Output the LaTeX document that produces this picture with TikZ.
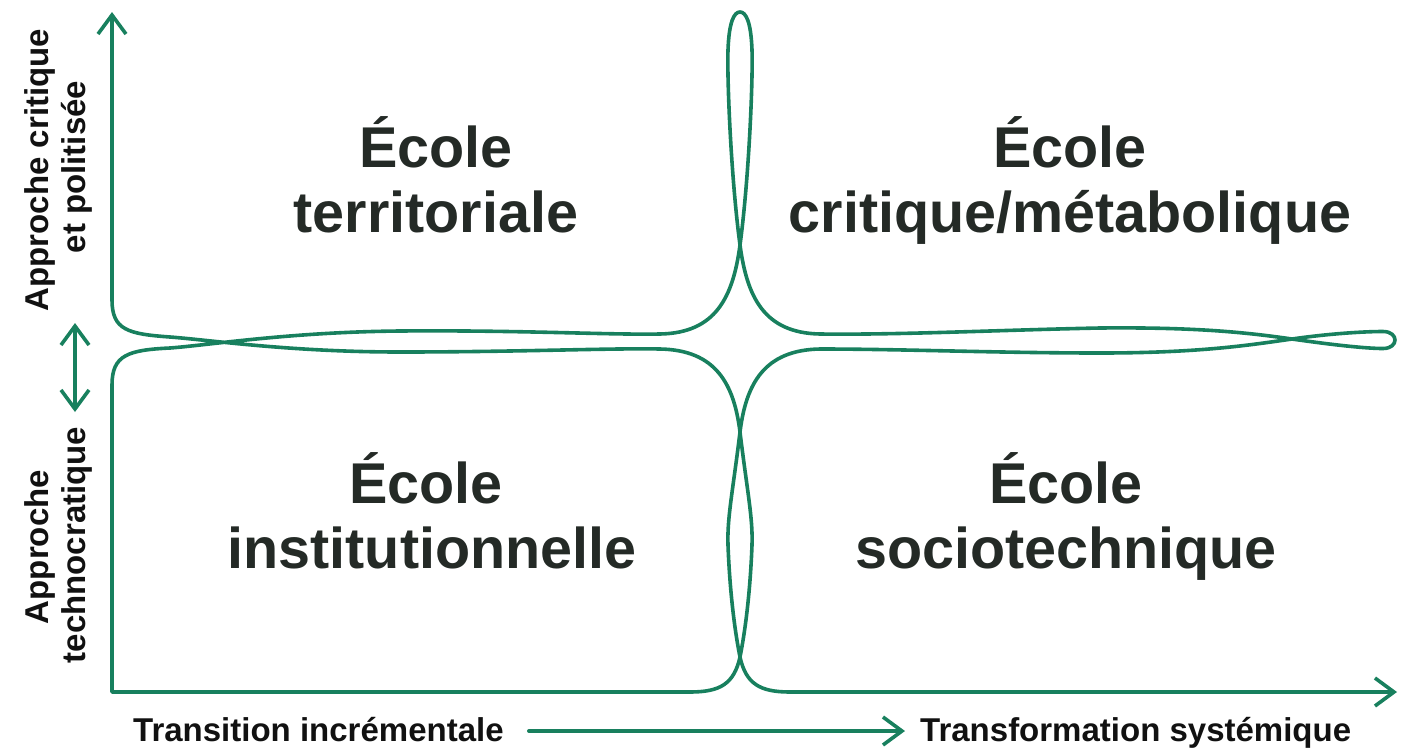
\documentclass[tikz,border=0pt]{standalone}
\usepackage{fontspec}
\setmainfont{Liberation Sans}
\usetikzlibrary{arrows.meta}
\definecolor{lineGreen}{RGB}{24,128,94}
\definecolor{schoolText}{RGB}{36,42,38}
\definecolor{axisText}{RGB}{17,17,17}

\begin{document}
\begin{tikzpicture}[line cap=round,line join=round,>={Straight Barb[length=19pt,width=28pt]},x=1pt,y=-1pt,
  curve/.style={lineGreen,line width=3.6pt},
  school/.style={font=\fontsize{57.5}{65}\selectfont\bfseries,text=schoolText,anchor=base,inner sep=0pt},
  axislabel/.style={font=\fontsize{33}{37}\selectfont\bfseries,text=axisText,inner sep=0pt}]
\useasboundingbox (0,0) rectangle (1409,750);
% axes ends
\coordinate (ytop) at (112,12);
\coordinate (orig) at (112,692);
\coordinate (xend) at (1397,692);
\coordinate (dtop) at (75,323);
\coordinate (dbot) at (75,412);
% one line: y axis, loops, x axis
\draw[curve,<->] (ytop) -- (112,300)
  .. controls (112,330) and (128,334) .. (170,337)
  .. controls (210,340) and (290,352) .. (400,352)
  .. controls (520,352) and (610,348) .. (660,349)
  .. controls (716,350) and (734,384) .. (740,432)
  .. controls (747,490) and (753,518) .. (752,545)
  .. controls (751,572) and (748,617) .. (740,657)
  .. controls (734,684) and (720,692) .. (690,692)
  -- (orig) -- (112,385)
  .. controls (112,355) and (128,350) .. (170,348)
  .. controls (210,345) and (290,332) .. (400,331)
  .. controls (520,330) and (610,335) .. (660,334)
  .. controls (716,333) and (733,297) .. (740,245)
  .. controls (749,178) and (753,80) .. (752,50)
  .. controls (751,22) and (746,12) .. (740,12)
  .. controls (734,12) and (729,22) .. (728,50)
  .. controls (727,80) and (731,178) .. (740,245)
  .. controls (747,297) and (764,333) .. (820,334)
  .. controls (900,335) and (1000,330) .. (1100,328)
  .. controls (1200,327) and (1250,333) .. (1292,339)
  .. controls (1330,344.5) and (1365,348.5) .. (1383,348.5)
  .. controls (1399,348.5) and (1399,331.5) .. (1383,331.5)
  .. controls (1365,331.5) and (1330,333.5) .. (1292,339)
  .. controls (1250,345) and (1200,353) .. (1100,353)
  .. controls (1000,353) and (900,349) .. (820,349)
  .. controls (764,350) and (746,384) .. (740,432)
  .. controls (733,490) and (727,518) .. (728,545)
  .. controls (729,572) and (732,617) .. (740,657)
  .. controls (746,684) and (760,692) .. (790,692)
  -- (xend);
\draw[curve,<->] (dtop) -- (dbot);
% quadrants
\node[school] (terr1) at (436,167) {École};
\node[school] (terr2) at (436,232) {territoriale};
\node[school] (crit1) at (1070,167) {École};
\node[school] (crit2) at (1070,232) {critique/métabolique};
\node[school] (inst1) at (426,503) {École};
\node[school] (inst2) at (432,568) {institutionnelle};
\node[school] (soci1) at (1066,503) {École};
\node[school] (soci2) at (1066,568) {sociotechnique};
% axis labels
\node[axislabel,rotate=90,anchor=base] (crit) at (48,170) {Approche critique};
\node[axislabel,rotate=90,anchor=base] (polit) at (85,167) {et politisée};
\node[axislabel,rotate=90,anchor=base] (appr) at (48,547) {Approche};
\node[axislabel,rotate=90,anchor=base] (techno) at (85,545) {technocratique};
\node[axislabel,anchor=base west] (incr) at (133,741) {Transition incrémentale};
\node[axislabel,anchor=base west] (syst) at (920,741) {Transformation systémique};
\draw[curve,->] ([xshift=25pt,yshift=10pt]incr.base east) -- ([xshift=-15pt,yshift=10pt]syst.base west);
\end{tikzpicture}
\end{document}
